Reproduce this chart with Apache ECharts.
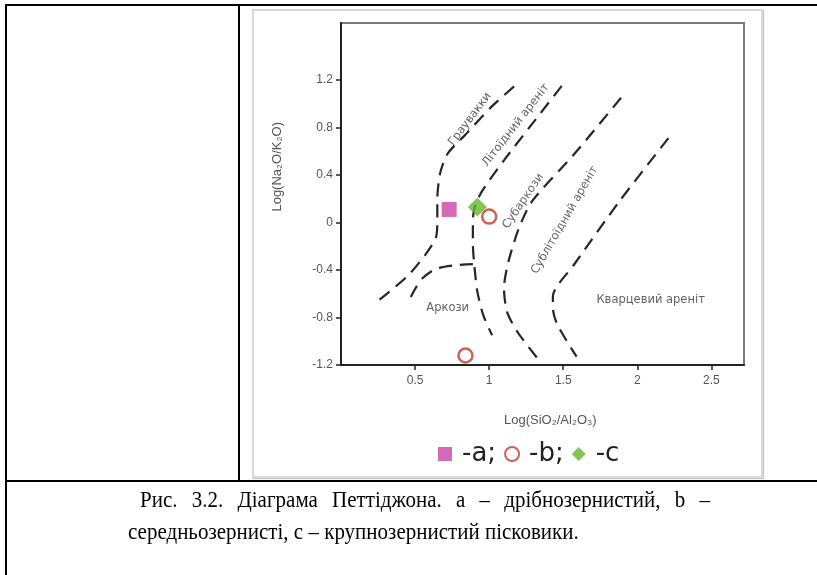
<!DOCTYPE html>
<html><head><meta charset="utf-8">
<script src="https://cdn.jsdelivr.net/npm/echarts@6.0.0/dist/echarts.min.js"></script>
<style>
html,body{margin:0;padding:0;background:#fff;}
#page{position:relative;width:817px;height:575px;overflow:hidden;background:#fff;}
.b{position:absolute;background:#000;}
#frame{position:absolute;left:252px;top:9px;width:507px;height:465px;border:2px solid #d8d8d8;box-shadow:1px 1px 1px #c8c8c8;}
#chart{position:absolute;left:0;top:0;width:817px;height:575px;}
.cap{position:absolute;font-family:"Liberation Serif","Times New Roman",serif;font-size:21px;line-height:21px;color:#000;white-space:nowrap;transform:scaleY(1.08);transform-origin:0 50%;}
.just{white-space:normal;text-align:justify;text-align-last:justify;width:570px;}
</style></head>
<body><div id="page">
<div class="b" style="left:5px;top:4px;width:812px;height:2px"></div>
<div class="b" style="left:5px;top:4px;width:2px;height:571px"></div>
<div class="b" style="left:238px;top:4px;width:2px;height:477px"></div>
<div class="b" style="left:5px;top:480px;width:812px;height:2px"></div>
<div id="frame"></div>
<div id="chart"></div>
<div class="cap just" style="left:140px;top:489px">Рис. 3.2. Діаграма Петтіджона. а – дрібнозернистий, b –</div>
<div class="cap" style="left:128px;top:521px">середньозернисті, с – крупнозернистий пісковики.</div>
</div>
<script>
// ---- data ----
const seriesNames = ['-a;', '-b;', '-c'];
const pointsA = [[0.73, 0.11]];
const pointsB = [[1.00, 0.05], [0.84, -1.12]];
const pointsC = [[0.92, 0.13]];

const xTicks = [0.5, 1, 1.5, 2, 2.5];
const yTicks = [-1.2, -0.8, -0.4, 0, 0.4, 0.8, 1.2];

const lineGreywacke = [[0.26,-0.65],[0.45,-0.45],[0.57,-0.27],[0.64,-0.13],[0.65,0.0],[0.65,0.20],[0.67,0.42],[0.72,0.58],[0.84,0.74],[1.02,0.98],[1.19,1.17]];
const lineLitharenite = [[1.49,1.15],[1.34,0.91],[1.11,0.54],[0.95,0.26],[0.90,0.12],[0.89,0.0],[0.89,-0.18],[0.90,-0.36],[0.92,-0.58],[0.96,-0.78],[1.02,-0.95]];
const lineArkose = [[0.89,-0.35],[0.77,-0.36],[0.64,-0.39],[0.55,-0.47],[0.50,-0.56],[0.45,-0.68]];
const lineSubarkose = [[1.89,1.05],[1.57,0.57],[1.29,0.18],[1.20,-0.05],[1.13,-0.33],[1.10,-0.55],[1.12,-0.75],[1.19,-0.92],[1.33,-1.15]];
const lineSublitharenite = [[2.21,0.71],[1.88,0.18],[1.57,-0.36],[1.43,-0.62],[1.43,-0.72],[1.46,-0.86],[1.59,-1.13]];

const regionNames = ['Граувакки', 'Літоїдний ареніт', 'Субаркози', 'Сублітоїдний ареніт', 'Аркози', 'Кварцевий ареніт'];
const regionPos = [[0.87, 0.87], [1.18, 0.82], [1.23, 0.18], [1.51, 0.02], [0.72, -0.72], [2.09, -0.65]];
const regionAngle = [53, 52, 56, 60, 0, 0];

const xName = 'Log(SiO₂/Al₂O₃)';
const yName = 'Log(Na₂O/K₂O)';

// ---- chart ----
const chart = echarts.init(document.getElementById('chart'), null, {renderer: 'canvas'});
const dash = {type: [13, 8], width: 2.2, color: '#262626'};
function boundary(d) {
  return {type: 'line', data: d, showSymbol: false, symbol: 'none', smooth: 0.25,
    lineStyle: dash, silent: true, z: 2, legendHoverLink: false};
}
const fmt = v => String(Math.round(v * 10) / 10);
const axisText = {color: '#555', fontSize: 12, fontFamily: 'Arial, Liberation Sans, sans-serif'};

chart.setOption({
  backgroundColor: 'transparent',
  animation: false,
  grid: {left: 341, top: 23, width: 403, height: 342, show: true, borderColor: '#7a7a7a', borderWidth: 2, containLabel: false},
  xAxis: {type: 'value', min: 0, max: 2.72, interval: 0.5,
    axisLine: {show: true, onZero: false, lineStyle: {color: '#222', width: 2}},
    axisTick: {show: true, length: 5, inside: false, customValues: xTicks, lineStyle: {color: '#222', width: 1.5}},
    axisLabel: Object.assign({customValues: xTicks, formatter: fmt, margin: 10}, axisText),
    splitLine: {show: false}},
  yAxis: {type: 'value', min: -1.2, max: 1.68, interval: 0.4,
    axisLine: {show: true, onZero: false, lineStyle: {color: '#222', width: 2}},
    axisTick: {show: true, length: 5, inside: false, customValues: yTicks, lineStyle: {color: '#222', width: 1.5}},
    axisLabel: Object.assign({customValues: yTicks, formatter: fmt, margin: 8}, axisText),
    splitLine: {show: false}},
  legend: {show: true, left: 433, top: 436, itemWidth: 14, itemHeight: 14, itemGap: 8,
    data: seriesNames,
    textStyle: {fontSize: 26, color: '#222', fontFamily: '"DejaVu Sans", Verdana, sans-serif', padding: [0, 0, 0, 5]}},
  graphic: [
    {type: 'text', left: 271, top: 122, rotation: Math.PI / 2,
      style: {text: yName, fill: '#555', font: '13px Arial, Liberation Sans, sans-serif'}},
    {type: 'text', left: 504, top: 414,
      style: {text: xName, fill: '#555', font: '13px Arial, Liberation Sans, sans-serif'}}
  ],
  series: [
    boundary(lineGreywacke), boundary(lineLitharenite), boundary(lineArkose),
    boundary(lineSubarkose), boundary(lineSublitharenite),
    {type: 'scatter', name: 'regions', silent: true, symbolSize: 0, z: 3,
      data: regionNames.map((n, i) => ({name: n, value: regionPos[i],
        label: {rotate: regionAngle[i]}})),
      label: {show: true, position: 'inside', formatter: p => p.name, color: '#3a3a3a', fontSize: 11.5,
        fontFamily: '"DejaVu Sans", Verdana, sans-serif'}},
    {type: 'scatter', name: seriesNames[0], data: pointsA, symbol: 'rect', symbolSize: 15,
      itemStyle: {color: '#c942a8'}, z: 5},
    {type: 'scatter', name: seriesNames[1], data: pointsB, symbol: 'circle', symbolSize: 14,
      itemStyle: {color: '#ffffff', borderColor: '#c0392b', borderWidth: 2.5}, z: 5},
    {type: 'scatter', name: seriesNames[2], data: pointsC, symbol: 'diamond', symbolSize: 19,
      itemStyle: {color: '#62b82c'}, z: 5}
  ]
});
</script>
</body></html>
